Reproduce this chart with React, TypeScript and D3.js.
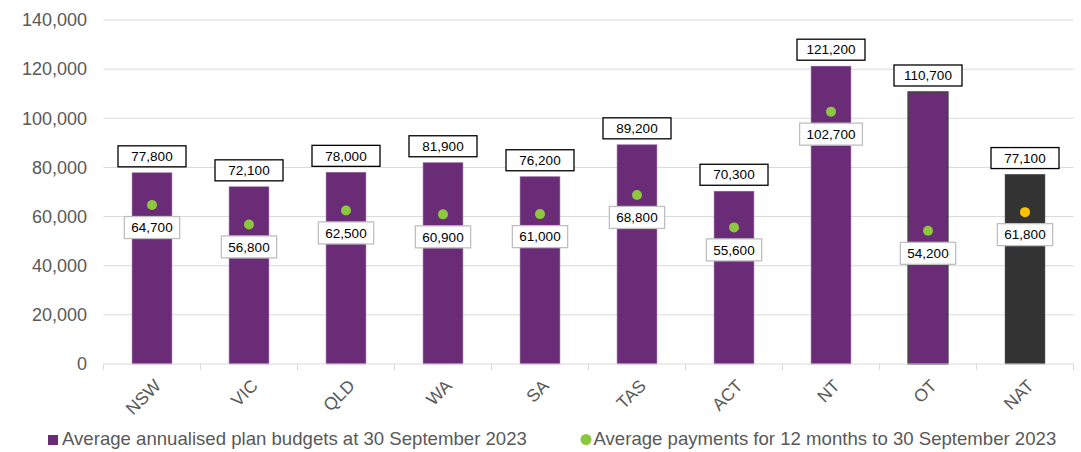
import React from "react";
import * as d3 from "d3";

const categories = ["NSW", "VIC", "QLD", "WA", "SA", "TAS", "ACT", "NT", "OT", "NAT"];
const budgets = [77800, 72100, 78000, 81900, 76200, 89200, 70300, 121200, 110700, 77100];
const payments = [64700, 56800, 62500, 60900, 61000, 68800, 55600, 102700, 54200, 61800];
const yTicks = [0, 20000, 40000, 60000, 80000, 100000, 120000, 140000];
const legendLabels = [
  "Average annualised plan budgets at 30 September 2023",
  "Average payments for 12 months to 30 September 2023",
];

const W = 1081;
const H = 452;
const margin = { left: 103.5, right: 7.5, top: 20, bottom: 88 };
const PURPLE = "#6A2C76";
const GREEN = "#8DC63F";
const ORANGE = "#FFC000";
const DARK = "#333333";
const GRID = "#D9D9D9";
const TEXT = "#595959";
const FONT = "Liberation Sans, Arial, sans-serif";

const fmt = d3.format(",");

function textWidth(s: string, size: number) {
  let w = 0;
  for (const c of s) w += c === "," ? 0.278 : 0.556;
  return w * size;
}

export default function App() {
  const x = d3
    .scaleBand<string>()
    .domain(categories)
    .range([margin.left, W - margin.right])
    .paddingInner(0.59)
    .paddingOuter(0.295);
  const band = d3.scaleBand<string>().domain(categories).range([margin.left, W - margin.right]);
  const y = d3.scaleLinear().domain([0, 140000]).range([364, 20]);

  return (
    <svg width={W} height={H} style={{ position: "absolute", left: 0, top: 0 }} fontFamily={FONT}>
      {yTicks.map((t) => (
        <g key={t}>
          {t > 0 && (
            <line x1={margin.left} x2={W - margin.right} y1={y(t)} y2={y(t)} stroke={GRID} strokeWidth={1} />
          )}
          <text x={87} y={y(t)} dy="0.35em" textAnchor="end" fontSize={18} fill={TEXT}>
            {fmt(t)}
          </text>
        </g>
      ))}
      {categories.map((c, i) => {
        const isNat = c === "NAT";
        const isOT = c === "OT";
        const bx = x(c)!;
        const bw = x.bandwidth();
        const cx = bx + bw / 2;
        const top = y(budgets[i]);
        const py = y(payments[i]);
        const pLabel = fmt(payments[i]);
        const pw = textWidth(pLabel, 13.5) + 14;
        return (
          <g key={c}>
            <rect
              x={bx}
              y={top}
              width={bw}
              height={y(0) - top}
              fill={isNat ? DARK : PURPLE}
              stroke={isOT ? "#404040" : isNat ? DARK : "#8a5a95"}
              strokeWidth={isOT ? 1.5 : 0.6}
            />
            <rect x={cx - 34} y={top - 27} width={68} height={21} fill="#fff" stroke="#000" strokeWidth={1.3} />
            <text x={cx} y={top - 16.5} dy="0.35em" textAnchor="middle" fontSize={13.5} fill="#000">
              {fmt(budgets[i])}
            </text>
            <circle cx={cx} cy={py} r={5} fill={isNat ? ORANGE : GREEN} />
            <rect x={cx - pw / 2} y={py + 11.5} width={pw} height={22} fill="#fff" stroke="#BFBFBF" strokeWidth={1.3} />
            <text x={cx} y={py + 22.5} dy="0.35em" textAnchor="middle" fontSize={13.5} fill="#000">
              {pLabel}
            </text>
          </g>
        );
      })}
      <line x1={margin.left} x2={W - margin.right} y1={y(0)} y2={y(0)} stroke={GRID} strokeWidth={1} />
      {categories.map((c) => (
        <line key={c} x1={band(c)!} x2={band(c)!} y1={y(0)} y2={y(0) + 6} stroke={GRID} />
      ))}
      <line x1={W - margin.right} x2={W - margin.right} y1={y(0)} y2={y(0) + 6} stroke={GRID} />
      {categories.map((c) => {
        const cx = x(c)! + x.bandwidth() / 2;
        return (
          <text
            key={c}
            transform={`translate(${cx + 1},${y(0) + 14}) rotate(-45)`}
            textAnchor="end"
            dy="0.72em"
            fontSize={17.5}
            fill={TEXT}
          >
            {c}
          </text>
        );
      })}
      <rect x={48} y={435} width={10} height={10} fill={PURPLE} />
      <text x={62} y={445} fontSize={18.6} fill={TEXT}>
        {legendLabels[0]}
      </text>
      <circle cx={586} cy={439.5} r={5.5} fill={GREEN} />
      <text x={593.5} y={445} fontSize={18.6} fill={TEXT}>
        {legendLabels[1]}
      </text>
    </svg>
  );
}
